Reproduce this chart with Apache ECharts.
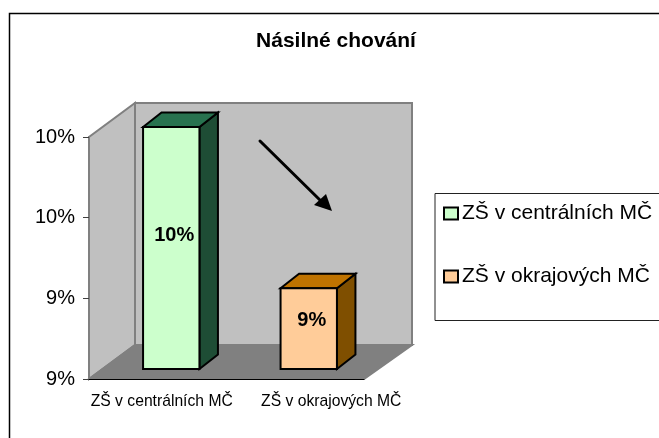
<!DOCTYPE html>
<html>
<head>
<meta charset="utf-8">
<title>Násilné chování</title>
<script src="https://cdn.jsdelivr.net/npm/echarts@6/dist/echarts.min.js"></script>
<style>
  html, body { margin: 0; padding: 0; background: #fff; }
  #chart { width: 659px; height: 438px; overflow: hidden; }
</style>
</head>
<body>
<div id="chart"></div>
<script>
const titleText = 'Násilné chování'
const categories = ['ZŠ v centrálních MČ', 'ZŠ v okrajových MČ']
const barValues = [10, 9.2] // procenta
const axisMin = 8.8
const axisMax = 10
const axisStep = 0.4

const FONT = '"Liberation Sans", Arial, sans-serif'
// hloubka 3D podlahy a sloupcu
const WALL_DX = 46
const WALL_DY = -34
const WALL_EXTRA_RIGHT = 2
const BAR_SHIFT_X = 13.5
const BAR_SHIFT_Y = -10
const BAR_DX = 18.5
const BAR_DY = -14.5
const LABEL_LIFT = [12.5, 8]

const palette = [
  { front: '#ccffcc', side: '#1e4d35', top: '#28724f' },
  { front: '#ffcc99', side: '#7f4f00', top: '#bf7300' }
]

const fmtPct = v => Math.round(v) + '%'

function renderWalls(params, api) {
  const band = api.size([1, 0])[0]
  const lb = api.coord([0, axisMin])
  const lt = api.coord([0, axisMax])
  const rb = api.coord([categories.length - 1, axisMin])
  lb[0] -= band / 2
  lt[0] -= band / 2
  rb[0] += band / 2
  const back = p => [p[0] + WALL_DX, p[1] + WALL_DY]
  const backRight = [back(rb)[0] + WALL_EXTRA_RIGHT, back(rb)[1]]
  const poly = (pts, fill) => ({
    type: 'polygon',
    shape: { points: pts },
    style: { fill: fill, stroke: '#808080', lineWidth: 2 }
  })
  return {
    type: 'group',
    children: [
      poly([lb, lt, back(lt), back(lb)], '#c0c0c0'),
      poly([back(lb), back(lt), [backRight[0], back(lt)[1]], backRight], '#c0c0c0'),
      poly([lb, back(lb), backRight, rb], '#808080')
    ]
  }
}

function renderBar(params, api) {
  const cat = api.value(0)
  const val = api.value(1)
  const c = palette[cat]
  const w = api.size([1, 0])[0] * 0.41
  const top = api.coord([cat, val])
  const base = api.coord([cat, axisMin])
  const x0 = top[0] + BAR_SHIFT_X - w / 2
  const x1 = x0 + w
  const yt = top[1] + BAR_SHIFT_Y
  const yb = base[1] + BAR_SHIFT_Y
  const line = { stroke: '#000', lineWidth: 2, lineJoin: 'miter' }
  return {
    type: 'group',
    children: [
      {
        type: 'polygon',
        shape: { points: [[x1, yt], [x1 + BAR_DX, yt + BAR_DY], [x1 + BAR_DX, yb + BAR_DY], [x1, yb]] },
        style: Object.assign({ fill: c.side }, line)
      },
      {
        type: 'polygon',
        shape: { points: [[x0, yt], [x0 + BAR_DX, yt + BAR_DY], [x1 + BAR_DX, yt + BAR_DY], [x1, yt]] },
        style: Object.assign({ fill: c.top }, line)
      },
      {
        type: 'rect',
        shape: { x: x0, y: yt, width: w, height: yb - yt },
        style: Object.assign({ fill: c.front }, line)
      },
      {
        type: 'text',
        style: {
          x: (x0 + x1) / 2 + 3,
          y: (yt + yb) / 2 - LABEL_LIFT[cat],
          text: fmtPct(val),
          font: 'bold 20px ' + FONT,
          fill: '#000',
          align: 'center',
          verticalAlign: 'middle'
        }
      }
    ]
  }
}

function barSeries(i) {
  return {
    name: categories[i],
    type: 'custom',
    z: 3,
    renderItem: renderBar,
    encode: { x: 0, y: 1 },
    itemStyle: { color: palette[i].front, borderColor: '#000', borderWidth: 2 },
    data: [[i, barValues[i]]]
  }
}

const chart = echarts.init(document.getElementById('chart'), null, { renderer: 'canvas' })
chart.setOption({
  animation: false,
  backgroundColor: '#fff',
  textStyle: { fontFamily: FONT },
  title: {
    text: titleText,
    left: 336,
    top: 26,
    padding: [5, 8, 5, 0],
    textAlign: 'center',
    textStyle: { fontFamily: FONT, fontSize: 21, fontWeight: 'bold', color: '#000' }
  },
  legend: {
    orient: 'vertical',
    left: 443,
    top: 203,
    padding: 0,
    itemWidth: 14,
    itemHeight: 12,
    itemGap: 42,
    icon: 'rect',
    selectedMode: false,
    data: categories,
    textStyle: { fontFamily: FONT, fontSize: 21, color: '#000', padding: [0, 0, 7, -1] }
  },
  grid: { left: 89, right: 295, top: 137, bottom: 59 },
  xAxis: {
    type: 'category',
    z: 5,
    data: [
      { value: categories[0], textStyle: { padding: [0, 0, 0, 8] } },
      { value: categories[1], textStyle: { padding: [0, 0, 0, 72] } }
    ],
    axisLine: { lineStyle: { color: '#000', width: 1 } },
    axisTick: { length: 6, lineStyle: { color: '#000' } },
    axisLabel: { interval: 0, hideOverlap: false, margin: 15, fontSize: 15.7, color: '#000', fontFamily: FONT }
  },
  yAxis: {
    type: 'value',
    z: 5,
    min: axisMin,
    max: axisMax,
    interval: axisStep,
    splitLine: { show: false },
    axisLine: { show: true, lineStyle: { color: '#808080', width: 2 } },
    axisTick: { show: true, length: 6, lineStyle: { color: '#404040' } },
    axisLabel: { margin: 14, fontSize: 20, color: '#000', fontFamily: FONT, formatter: fmtPct }
  },
  graphic: [
    { type: 'rect', z: -10, silent: true, shape: { x: 9.5, y: 13.5, width: 700, height: 500 }, style: { fill: 'none', stroke: '#000', lineWidth: 1.5 } },
    { type: 'rect', z: 1, silent: true, shape: { x: 435, y: 193.5, width: 260, height: 127 }, style: { fill: '#fff', stroke: '#222', lineWidth: 1 } },
    { type: 'line', z: 10, silent: true, shape: { x1: 260, y1: 141, x2: 324, y2: 204 }, style: { stroke: '#000', lineWidth: 3, lineCap: 'round' } },
    { type: 'polygon', z: 10, silent: true, shape: { points: [[332, 211], [314, 205], [326, 194]] }, style: { fill: '#000' } }
  ],
  series: [
    {
      type: 'custom',
      z: 1,
      silent: true,
      renderItem: renderWalls,
      data: [[0, axisMin]]
    },
    barSeries(0),
    barSeries(1)
  ]
})
</script>
</body>
</html>
